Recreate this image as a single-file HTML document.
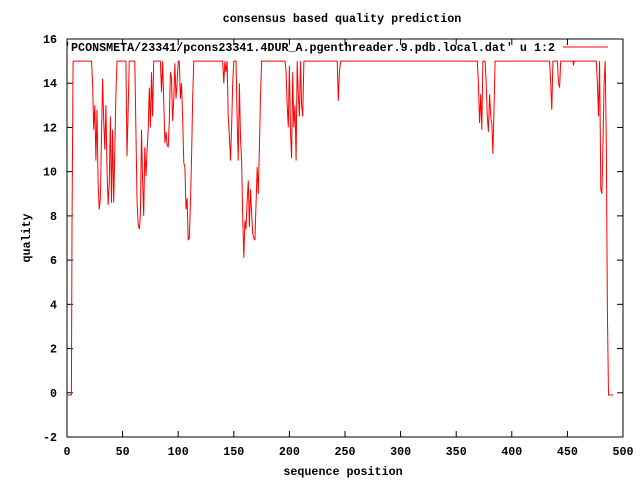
<!DOCTYPE html>
<html><head><meta charset="utf-8"><style>
body{margin:0;background:#fff}
svg text{font-family:"Liberation Mono",monospace;font-size:11.7px;font-weight:bold;fill:#000}
</style></head><body>
<svg id="c" width="640" height="480" xmlns="http://www.w3.org/2000/svg">
<rect width="640" height="480" fill="#fff"/>
<text x="342" y="22" text-anchor="middle">consensus based quality prediction</text>
<text x="343" y="475" text-anchor="middle">sequence position</text>
<text transform="translate(30,238) rotate(-90)" text-anchor="middle">quality</text>
<g id="axes"></g>
<rect x="67" y="39" width="556" height="398" fill="none" stroke="#000" stroke-width="1"/>
<text x="555" y="51" text-anchor="end">'PCONSMETA/23341/pcons23341.4DUR_A.pgenthreader.9.pdb.local.dat' u 1:2</text>
<line x1="563" y1="47" x2="608" y2="47" stroke="#f00" stroke-width="1"/>
<polyline id="series" fill="none" stroke="#f00" stroke-width="1"/>
</svg>
<script>
const xTicks=[0,50,100,150,200,250,300,350,400,450,500];
const yTicks=[-2,0,2,4,6,8,10,12,14,16];
const positions=[0,4,4.5,5.5,22,23,24,25,26,27,28,29,30,31,32,33,34,35,36,37,38,39,40,41,42,43,44,45,53,54,55,56,61,62,63,64,65,66,67,68,69,70,71,72,73,74,75,76,77,78,84,85,86,88,89,90,91,92,93,94,95,96,97,98,99,100,101,102,103,104,105,106,107,108,109,110,111,112,113,114,140,141,142,143,144,145,146,147,148,149,150,152,153,154,155,156,157,158,159,160,161,162,163,164,165,166,167,168,169,170,171,172,173,174,175,196,197,198,199,200,201,202,203,204,205,206,207,208,209,210,211,212,213,243,244,245,246,369,370,371,372,373,374,376,377,378,379,380,381,382,383,384,385,434,435,436,437,441,442,443,444,455,455.5,456,476,477,478,479,480,481,482,483,484,485,486,487,491];
const quality=[-0.1,-0.1,7.5,15,15,14,11.9,13,10.5,12.8,9.5,8.3,8.8,11.6,14.2,12.3,11,13,10.1,8.5,9.5,12.5,8.6,11.9,8.6,11,13.5,15,15,10.7,12.9,15,15,11.9,8.6,7.6,7.4,8,11.9,9.6,8,11.1,9.8,11,11.9,13.8,12,14.5,12.5,15,15,13.6,15,11.3,11.8,11.2,11.1,12.3,14.5,14.2,12.3,13.3,14.9,13.3,14,15,15,13.3,14,12.5,10.4,10.2,8.3,8.8,6.9,7,8.5,10.5,13.4,15,15,14,15,14.5,15,12.5,11.6,10.5,12,14,15,15,12.5,10.5,14,11.5,10.5,8,6.1,7.8,7.4,8.6,9.6,7.5,9.2,8.1,7.2,7,6.9,8.5,10.2,9,11.1,13.4,15,15,14.5,13,12,14.8,11.8,10.6,14.5,12,13,10.5,15,13.5,12.5,15,13,12.5,15,15,13.2,14.5,15,15,14,12.2,13.5,11.9,15,15,14,12.5,11.8,13.5,12.5,12.2,10.8,12.8,15,15,14,12.8,15,15,14,13.8,15,15,14.8,15,15,14,12.5,15,9.2,9,11.3,14,15,11.3,3.7,-0.1,-0.1];
const X0=67,X1=623,Y0=437,Y1=39;
const sx=v=>X0+(v-0)/(500-0)*(X1-X0);
const sy=v=>Y0-(v-(-2))/(16-(-2))*(Y0-Y1);
const NS="http://www.w3.org/2000/svg";
const ax=document.getElementById('axes');
function mk(t,a){const e=document.createElementNS(NS,t);for(const k in a)e.setAttribute(k,a[k]);return e;}
xTicks.forEach(v=>{
  const x=sx(v);
  const t1=mk('line',{x1:x,y1:Y0,x2:x,y2:Y0-6,stroke:'#000'});
  
  
  ax.appendChild(t1);
  const t2=mk('line',{x1:x,y1:Y1,x2:x,y2:Y1+6,stroke:'#000'});
  
  
  ax.appendChild(t2);
  const l=mk('text',{x:x,y:Y0+18,'text-anchor':'middle'});
  l.textContent=v;
  
  
  ax.appendChild(l);
});
yTicks.forEach(v=>{
  const y=sy(v);
  const t1=mk('line',{x1:X0,y1:y,x2:X0+6,y2:y,stroke:'#000'});
  
  
  ax.appendChild(t1);
  const t2=mk('line',{x1:X1,y1:y,x2:X1-6,y2:y,stroke:'#000'});
  
  
  ax.appendChild(t2);
  const l=mk('text',{x:X0-10,y:y+4,'text-anchor':'end'});
  l.textContent=v;
  
  
  ax.appendChild(l);
});
document.getElementById('series').setAttribute('points',positions.map((p,i)=>sx(p).toFixed(1)+','+sy(quality[i]).toFixed(1)).join(' '));
</script>
</body></html>
